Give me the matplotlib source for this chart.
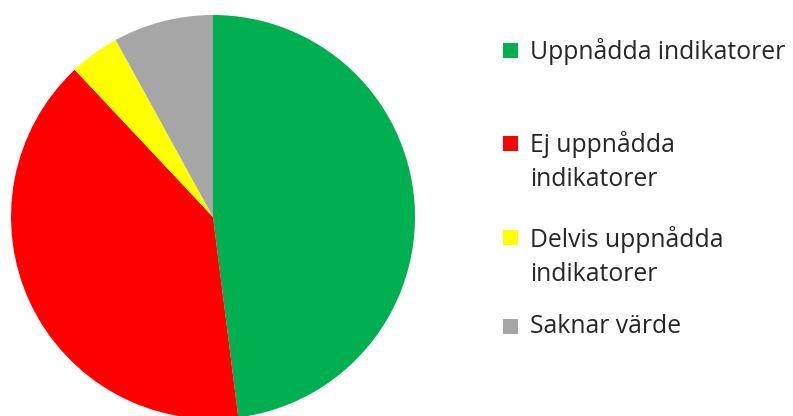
import matplotlib.pyplot as plt
from matplotlib.patches import Rectangle

labels = ["Uppnådda indikatorer", "Ej uppnådda\nindikatorer",
          "Delvis uppnådda\nindikatorer", "Saknar värde"]
values = [12, 10, 1, 2]
colors = ["#00B050", "#FF0000", "#FFFF00", "#A6A6A6"]

W, H = 793, 416
fig = plt.figure(figsize=(W / 100, H / 100), dpi=100)
ax = fig.add_axes([0, 0, 1, 1])

# pie centre and radius in pixels
cx, cy, r = 213, 217, 202
ax.pie(values, colors=colors, startangle=90, counterclock=False,
       wedgeprops=dict(linewidth=0))
ax.set_xlim(-cx / r, (W - cx) / r)
ax.set_ylim(-(H - cy) / r, cy / r)
ax.axis("off")

# legend drawn by hand so markers line up with the first text line
def fx(px):
    return px / W

def fy(py):
    return 1 - py / H

first_line_y = [50, 143, 238, 326]
for lab, col, y in zip(labels, colors, first_line_y):
    fig.patches.append(Rectangle((fx(503), fy(y + 7.5)), 15 / W, 15 / H,
                                 transform=fig.transFigure, facecolor=col,
                                 edgecolor="none"))
    fig.text(fx(530), fy(y - 12), lab, ha="left", va="top",
             fontsize=17.8, family="Open Sans", color="#262626",
             linespacing=1.45)

fig.savefig("out.png", dpi=100)
